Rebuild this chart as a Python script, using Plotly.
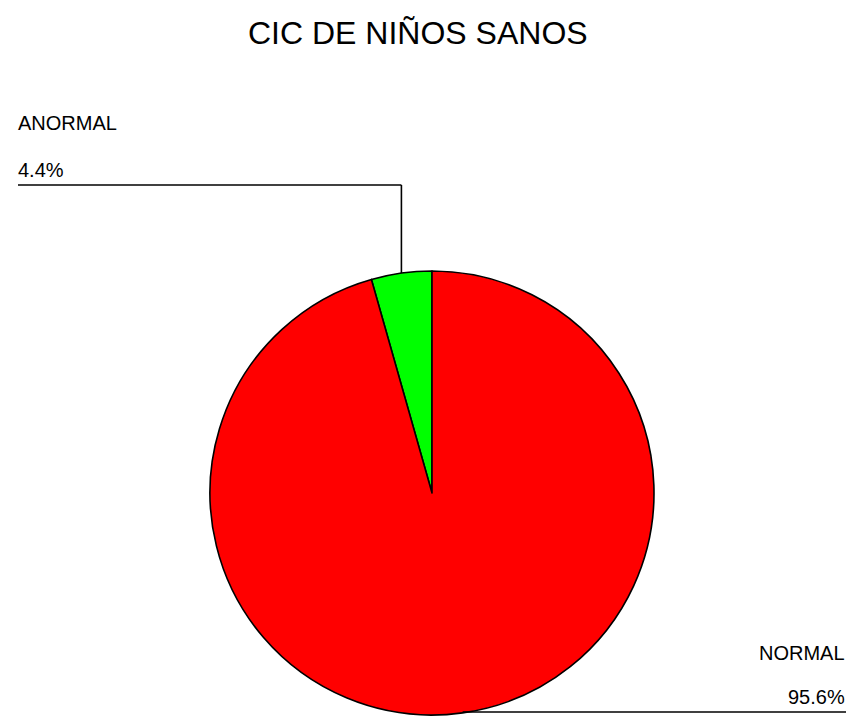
import math
import plotly.graph_objects as go

# Data
categories = ["ANORMAL", "NORMAL"]
percentages = [4.4, 95.6]
slice_colors = ["#00FF00", "#FF0000"]
title_text = "CIC DE NIÑOS SANOS"

W, H = 852, 716
cx, cy, r = 432, 493, 222  # pie centre and radius in pixels


def px(x):
    return x / W


def py(y):
    return 1 - y / H


total = sum(percentages)
# ANORMAL sits just left of 12 o'clock; the remaining slice wraps round clockwise
first_span = percentages[0] / total * 360.0

fig = go.Figure(
    go.Pie(
        labels=categories,
        values=percentages,
        sort=False,
        direction="clockwise",
        rotation=-first_span,
        marker=dict(colors=slice_colors, line=dict(color="black", width=1.6)),
        textinfo="none",
        hoverinfo="label+percent",
        showlegend=False,
        domain=dict(x=[px(cx - r), px(cx + r)], y=[py(cy + r), py(cy - r)]),
    )
)

# Leader lines from each slice midpoint (angles measured counterclockwise from 12 o'clock)
start = 0.0
mids = []
for v in percentages:
    mids.append(start + v / total * 180.0)
    start += v / total * 360.0


def edge_point(angle_deg):
    a = math.radians(angle_deg)
    return cx - r * math.sin(a), cy - r * math.cos(a)


shapes = []
ax, ay = edge_point(mids[0])
shapes.append(dict(type="line", xref="paper", yref="paper",
                   x0=px(18), y0=py(185), x1=px(ax), y1=py(185),
                   line=dict(color="black", width=1.6)))
shapes.append(dict(type="line", xref="paper", yref="paper",
                   x0=px(ax), y0=py(185), x1=px(ax), y1=py(ay),
                   line=dict(color="black", width=1.6)))
bx, by = edge_point(mids[1])
shapes.append(dict(type="line", xref="paper", yref="paper",
                   x0=px(bx), y0=py(712), x1=px(846), y1=py(712),
                   line=dict(color="black", width=1.6)))

font = dict(family="Liberation Sans, Arial, sans-serif", size=20, color="black")
annotations = [
    dict(text=categories[0], x=px(16), y=py(123), xanchor="left", yanchor="middle"),
    dict(text=f"{percentages[0]}%", x=px(16), y=py(170), xanchor="left", yanchor="middle"),
    dict(text=categories[1], x=px(847), y=py(653), xanchor="right", yanchor="middle"),
    dict(text=f"{percentages[1]}%", x=px(847), y=py(697), xanchor="right", yanchor="middle"),
    dict(text=title_text, x=px(418), y=py(33), xanchor="center", yanchor="middle",
         font=dict(family="Liberation Sans, Arial, sans-serif", size=32, color="black")),
]
for a in annotations:
    a.update(xref="paper", yref="paper", showarrow=False)
    a.setdefault("font", font)

fig.update_layout(
    width=W, height=H,
    margin=dict(l=0, r=0, t=0, b=0),
    paper_bgcolor="white",
    plot_bgcolor="white",
    shapes=shapes,
    annotations=annotations,
)

fig.write_html("out.html")
